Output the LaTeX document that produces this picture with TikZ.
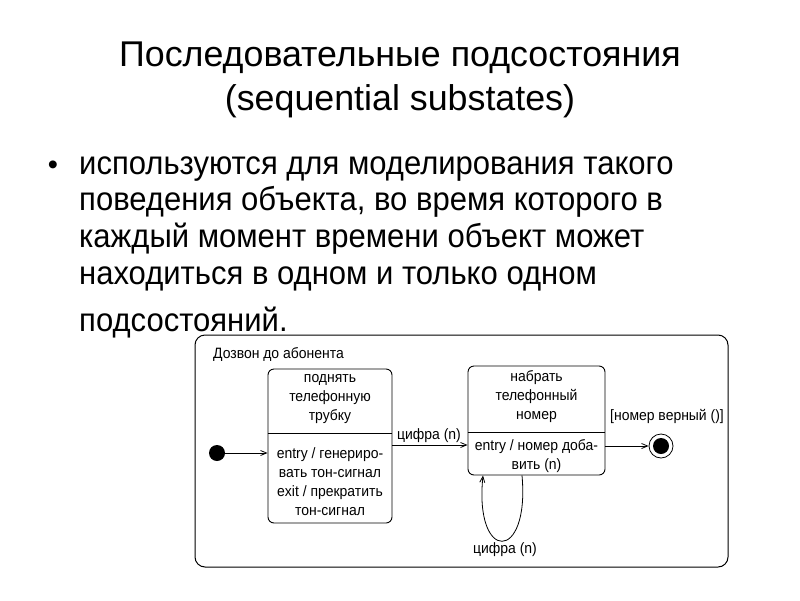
\documentclass[tikz,border=0pt]{standalone}
\usepackage{fontspec}
\setmainfont{Liberation Sans}
\newfontfamily\bodyfont[FakeStretch=0.94]{Liberation Sans}
\newfontfamily\umlfont[FakeStretch=0.93]{Liberation Sans}
\usetikzlibrary{arrows.meta}

\begin{document}
\begin{tikzpicture}[x=1pt,y=-1pt,
    state/.style={draw,rounded corners=6pt,line width=0.9pt,inner sep=0pt},
    trans/.style={-{Straight Barb[length=6pt,width=5pt]},line width=0.8pt},
    uml/.style={font=\umlfont\fontsize{15}{19}\selectfont,align=center,inner sep=0pt},
    body/.style={anchor=base west,inner sep=0pt,font=\bodyfont\fontsize{33}{37}\selectfont}]
    \useasboundingbox (0,0) rectangle (800,600);
    \fill[white] (0,0) rectangle (800,600);

    \node (title) at (400,66) [anchor=base,font=\fontsize{35.8}{44}\selectfont] {Последовательные подсостояния};
    \node (subtitle) at (400,110) [anchor=base,font=\fontsize{35.8}{44}\selectfont] {(sequential substates)};

    \node (bullet) at (53,174) [anchor=base,font=\fontsize{29}{36}\selectfont] {•};
    \node (line1) at (79,174) [body] {используются для моделирования такого};
    \node (line2) at (79,210) [body] {поведения объекта, во время которого в};
    \node (line3) at (79,247) [body] {каждый момент времени объект может};
    \node (line4) at (79,284) [body] {находиться в одном и только одном};
    \node (line5) at (79,331) [body] {подсостояний.};

    \node (call) at (461.5,451) [draw,rounded corners=10pt,line width=1pt,minimum width=533,minimum height=232] {};
    \draw (213,354) node[uml,anchor=west] {Дозвон до абонента};

    \node (lift) at (330,446) [state,minimum width=124,minimum height=154] {};
    \draw[line width=0.9pt] (lift.west |- 0,433) -- (lift.east |- 0,433);
    \draw (330,399) node[uml] {поднять\\телефонную\\трубку};
    \draw (330,482) node[uml] {entry / генериро-\\вать тон-сигнал\\exit / прекратить\\тон-сигнал};

    \node (dial) at (536.5,420.5) [state,minimum width=137,minimum height=109] {};
    \draw[line width=0.9pt] (dial.west |- 0,432) -- (dial.east |- 0,432);
    \draw (536.5,397) node[uml] {набрать\\телефонный\\номер};
    \draw (536.5,456) node[uml] {entry / номер доба-\\вить (n)};

    \node (init) at (217,453) [circle,fill,inner sep=0pt,minimum size=16] {};
    \node (fin) at (661,446) [circle,draw,line width=0.8pt,inner sep=0pt,minimum size=24] {};
    \node (fincore) at (fin) [circle,fill,inner sep=0pt,minimum size=16] {};

    \draw[trans] (init) -- (init -| lift.west);
    \draw[trans] (lift.east |- 0,445) -- (dial.west |- 0,445);
    \draw (429,436) node[uml] {цифра (n)};
    \draw[trans] (dial.east |- fin) -- (fin);
    \draw (667,416) node[uml] {[номер верный ()]};
    \draw[trans] (dial.south -| 522,0) .. controls (530,563) and (474,563) .. (dial.south -| 483,0);
    \draw (505,550) node[uml] {цифра (n)};
\end{tikzpicture}
\end{document}
